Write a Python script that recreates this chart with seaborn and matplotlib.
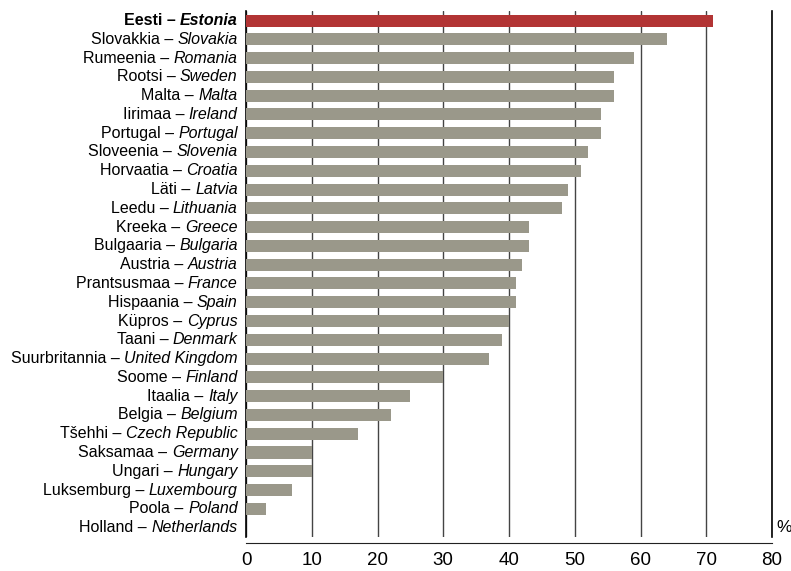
import matplotlib
matplotlib.use("Agg")
import matplotlib.pyplot as plt
import seaborn as sns
import pandas as pd

# country names (Estonian / English) and values, top to bottom
est_names = ["Eesti", "Slovakkia", "Rumeenia", "Rootsi", "Malta", "Iirimaa",
             "Portugal", "Sloveenia", "Horvaatia", "Läti", "Leedu", "Kreeka",
             "Bulgaaria", "Austria", "Prantsusmaa", "Hispaania", "Küpros",
             "Taani", "Suurbritannia", "Soome", "Itaalia", "Belgia", "Tšehhi",
             "Saksamaa", "Ungari", "Luksemburg", "Poola", "Holland"]
eng_names = ["Estonia", "Slovakia", "Romania", "Sweden", "Malta", "Ireland",
             "Portugal", "Slovenia", "Croatia", "Latvia", "Lithuania", "Greece",
             "Bulgaria", "Austria", "France", "Spain", "Cyprus",
             "Denmark", "United Kingdom", "Finland", "Italy", "Belgium",
             "Czech Republic", "Germany", "Hungary", "Luxembourg", "Poland",
             "Netherlands"]
values = [71, 64, 59, 56, 56, 54, 54, 52, 51, 49, 48, 43, 43, 42, 41, 41, 40,
          39, 37, 30, 25, 22, 17, 10, 10, 7, 3, 0]
x_ticks = [0, 10, 20, 30, 40, 50, 60, 70, 80]

df = pd.DataFrame({"country": eng_names, "value": values})
palette = ["#B23434"] + ["#9A988A"] * (len(values) - 1)

sns.set_style("white")
plt.rcParams["font.family"] = ["Liberation Sans", "DejaVu Sans"]
plt.rcParams["text.color"] = "black"
plt.rcParams["xtick.color"] = "black"

fig = plt.figure(figsize=(7.91, 5.71), dpi=100)
ax = fig.add_axes([0.311, 0.0595, 0.665, 0.921])

sns.barplot(data=df, x="value", y="country", hue="country", palette=palette,
            legend=False, width=0.64, saturation=1, linewidth=0,
            ax=ax, zorder=3)

ax.set_xlim(0, 80)
ax.set_ylim(len(values) - 0.5, -0.5)
ax.set_xticks(x_ticks)
ax.tick_params(axis="x", labelsize=13.5, direction="out", length=5,
               width=1, color="#222222", labelcolor="black", pad=1.5)
ax.set_xlabel("")
ax.set_ylabel("")
ax.set_yticks([])

ax.xaxis.grid(True, color="#444444", linewidth=1, zorder=0)
ax.set_axisbelow(True)

ax.spines["top"].set_visible(False)
ax.spines["right"].set_color("black")
ax.spines["right"].set_linewidth(1.2)
ax.spines["left"].set_color("black")
ax.spines["left"].set_linewidth(1.2)
ax.spines["bottom"].set_color("#222222")
ax.spines["bottom"].set_position(("outward", 4.5))

ytrans = ax.get_yaxis_transform()
for i, (est, eng) in enumerate(zip(est_names, eng_names)):
    weight = "bold" if i == 0 else "normal"
    t = ax.annotate(eng, xy=(0, i), xycoords=ytrans, xytext=(-6, 0),
                    textcoords="offset points", ha="right", va="center",
                    fontsize=11.5, style="italic", fontweight=weight)
    ax.annotate(est + " \u2013 ", xy=(0, 0.5), xycoords=t, ha="right",
                va="center", fontsize=11.5, fontweight=weight)

ax.annotate("%", xy=(80, len(values) - 1), xycoords="data", xytext=(3, 0),
            textcoords="offset points", ha="left", va="center", fontsize=12.5)

fig.savefig("out.png", dpi=100)
